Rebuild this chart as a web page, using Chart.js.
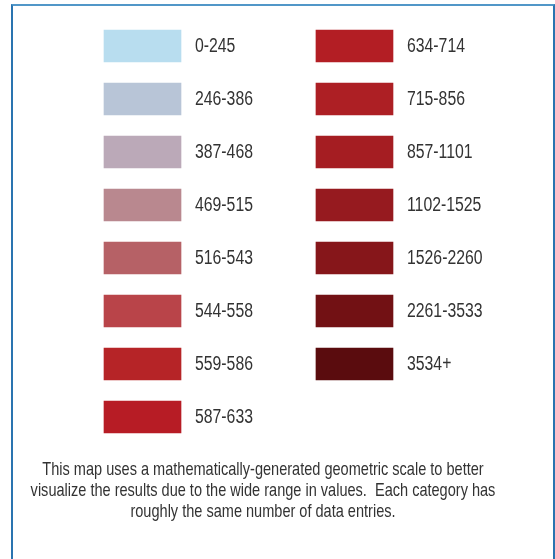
<!DOCTYPE html>
<html>
<head>
<meta charset="utf-8">
<script src="https://cdn.jsdelivr.net/npm/chart.js@4/dist/chart.umd.min.js"></script>
<style>
  html, body { margin: 0; padding: 0; background: #ffffff; overflow: hidden; }
  #wrap { position: relative; width: 555px; height: 559px; }
  #frame {
    position: absolute; left: 11px; top: 4px; width: 544px; height: 600px;
    box-sizing: border-box;
    border-left: 2px solid #2a74b0; border-right: 2px solid #2a74b0; border-top: 2px solid #5197c8;
    pointer-events: none;
  }
  canvas { position: absolute; left: 0; top: 0; }
</style>
</head>
<body>
<div id="wrap">
  <canvas id="c" width="555" height="559"></canvas>
  <div id="frame"></div>
</div>
<script>
// ---- data ----
const leftLabels  = ['0-245', '246-386', '387-468', '469-515', '516-543', '544-558', '559-586', '587-633'];
const leftColors  = ['#b8ddef', '#b8c5d7', '#bba9b8', '#b9888f', '#b66166', '#b94449', '#b62427', '#b71c25'];
const rightLabels = ['634-714', '715-856', '857-1101', '1102-1525', '1526-2260', '2261-3533', '3534+'];
const rightColors = ['#b31e24', '#ad1f24', '#a51d22', '#961a1f', '#86161a', '#721114', '#5a0c0e'];
const captionLines = [
  'This map uses a mathematically-generated geometric scale to better',
  'visualize the results due to the wide range in values.  Each category has',
  'roughly the same number of data entries.'
];
const rows = ['1', '2', '3', '4', '5', '6', '7', '8'];

// ---- layout constants (swatch units) ----
const COL2 = 2.753;          // start of right column, in swatch widths
const X_MIN = -1.3506, X_MAX = 5.857;
const FONT = '"Liberation Sans", Arial, sans-serif';
const CONDENSE_LABEL = 0.79;
const CONDENSE_CAPTION = 0.786;

const swatchLabels = {
  id: 'swatchLabels',
  afterDatasetsDraw(chart) {
    const ctx = chart.ctx;
    ctx.save();
    ctx.font = '20px ' + FONT;
    ctx.fillStyle = '#333333';
    ctx.textBaseline = 'middle';
    ctx.textAlign = 'left';
    chart.data.datasets.forEach((ds, di) => {
      const meta = chart.getDatasetMeta(di);
      meta.data.forEach((bar, i) => {
        if (ds.data[i] == null) return;
        const right = Math.max(bar.x, bar.base);
        ctx.save();
        ctx.translate(right + 14, bar.y);
        ctx.scale(CONDENSE_LABEL, 1);
        ctx.fillText(ds.entryLabels[i], 0, 0);
        ctx.restore();
      });
    });
    ctx.restore();
  }
};

const caption = {
  id: 'caption',
  afterDraw(chart) {
    const ctx = chart.ctx;
    const area = chart.chartArea;
    ctx.save();
    ctx.font = '18.5px ' + FONT;
    ctx.fillStyle = '#333333';
    ctx.textBaseline = 'alphabetic';
    ctx.textAlign = 'center';
    const cx = 263;
    captionLines.forEach((line, i) => {
      ctx.save();
      ctx.translate(cx, area.bottom + 31.5 + 21 * i);
      ctx.scale(CONDENSE_CAPTION, 1);
      ctx.fillText(line, 0, 0);
      ctx.restore();
    });
    ctx.restore();
  }
};

new Chart(document.getElementById('c'), {
  type: 'bar',
  data: {
    labels: rows,
    datasets: [
      {
        label: 'low',
        data: leftLabels.map(() => [0, 1]),
        entryLabels: leftLabels,
        backgroundColor: leftColors,
        borderWidth: 0,
        barThickness: 32,
        grouped: false
      },
      {
        label: 'high',
        data: rightLabels.map(() => [COL2, COL2 + 1]),
        entryLabels: rightLabels,
        backgroundColor: rightColors,
        borderWidth: 0,
        barThickness: 32,
        grouped: false
      }
    ]
  },
  options: {
    indexAxis: 'y',
    responsive: false,
    animation: false,
    devicePixelRatio: 1,
    layout: { padding: { top: 19.5, bottom: 115.5, left: 0, right: 0 } },
    scales: {
      x: { type: 'linear', min: X_MIN, max: X_MAX, display: false },
      y: { type: 'category', display: false, offset: true }
    },
    plugins: {
      legend: { display: false },
      tooltip: { enabled: false },
      title: { display: false }
    }
  },
  plugins: [swatchLabels, caption]
});
</script>
</body>
</html>
